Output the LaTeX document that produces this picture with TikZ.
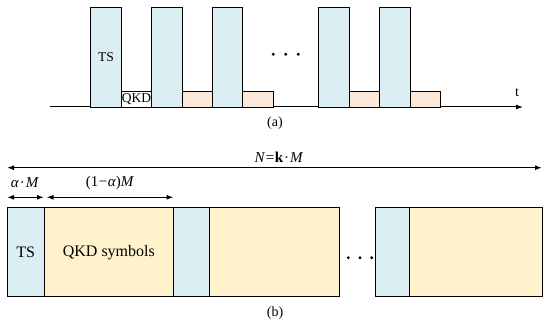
\documentclass[tikz,border=0pt]{standalone}
\usepackage{fontspec}
\setmainfont{Liberation Serif}
\usetikzlibrary{arrows.meta}
\definecolor{tsblue}{HTML}{DAEEF3}
\definecolor{qkdpeach}{HTML}{FDE9D9}
\definecolor{qkdyellow}{HTML}{FFF2CC}
\begin{document}
\begin{tikzpicture}[x=1pt,y=-1pt,
  box/.style={draw, line width=0.9pt, inner sep=0pt, outer sep=0pt, anchor=north west},
  tsbar/.style={box, fill=tsblue, minimum width=30.5pt, minimum height=100pt, font=\fontsize{13.5}{15}\selectfont},
  qkdbar/.style={box, fill=qkdpeach, minimum width=30.5pt, minimum height=15.7pt, font=\fontsize{13.5}{15}\selectfont},
  tsblock/.style={box, fill=tsblue, minimum height=89pt, font=\fontsize{16}{18}\selectfont},
  qkdblock/.style={box, fill=qkdyellow, minimum height=89pt, font=\fontsize{16}{18}\selectfont},
  dimarrow/.style={line width=1.2pt, {Latex[length=7pt,width=5pt]}-{Latex[length=7pt,width=5pt]}},
  axisarrow/.style={line width=1pt, -{Latex[length=7pt,width=5pt]}},
  lbl/.style={inner sep=0pt, font=\fontsize{15}{17}\selectfont},
  captext/.style={inner sep=0pt, font=\fontsize{14}{16}\selectfont}
]
\useasboundingbox (0,0) rectangle (550,326);
% ---------- (a) ----------
\coordinate (ax0) at (50,107);
\coordinate (ax1) at (523,107);
\draw[axisarrow] (ax0) -- (ax1);
\node[inner sep=0pt, font=\fontsize{14}{16}\selectfont] (tlab) at (517,93) {t};
\node[tsbar] (t1) at (90.7,7) {TS};
\node[qkdbar, fill=white] (q1) at (121.2,91.3) {QKD};
\node[tsbar] (t2) at (151.7,7) {};
\node[qkdbar] (q2) at (182.2,91.3) {};
\node[tsbar] (t3) at (212,7) {};
\node[qkdbar] (q3) at (242.5,91.3) {};
\node[tsbar] (t4) at (318.5,7) {};
\node[qkdbar] (q4) at (349,91.3) {};
\node[tsbar] (t5) at (379.5,7) {};
\node[qkdbar] (q5) at (410,91.3) {};
\foreach \x in {273.3,285.8,298.3}{
  \fill (\x,54.3) circle (1.6pt);
}
\node[captext] (capa) at (275,123) {(a)};
% ---------- (b) ----------
\coordinate (n0) at (7,167.7);
\coordinate (n1) at (542,167.7);
\draw[dimarrow] (n0) -- (n1);
\node[lbl] (nlab) at (279,157.5) {\textit{N}\kern0.5pt=\kern0.5pt\textbf{k}\kern1pt·\kern1pt\textit{M}};
\coordinate (a0) at (7,197.3);
\coordinate (a1) at (44,197.3);
\draw[dimarrow] (a0) -- (a1);
\node[lbl] (alab) at (25,183) {\textit{α}\kern1pt·\kern1pt\textit{M}};
\coordinate (b0) at (46.5,197.3);
\coordinate (b1) at (173.5,197.3);
\draw[dimarrow] (b0) -- (b1);
\node[lbl] (blab) at (110,183) {(1\kern0.5pt−\kern0.5pt\textit{α})\textit{M}};
\node[tsblock, minimum width=36.7pt] (s1) at (7.3,207.7) {TS};
\node[qkdblock, minimum width=129.7pt] (k1) at (44,207.7) {QKD symbols};
\node[tsblock, minimum width=36pt] (s2) at (173.7,207.7) {};
\node[qkdblock, minimum width=129.6pt] (k2) at (209.7,207.7) {};
\node[tsblock, minimum width=34pt] (s3) at (375.7,207.7) {};
\node[qkdblock, minimum width=132.6pt] (k3) at (409.7,207.7) {};
\foreach \x in {348.3,360,371.7}{
  \fill (\x,257.7) circle (1.6pt);
}
\node[captext] (capb) at (275,313) {(b)};
\end{tikzpicture}
\end{document}
